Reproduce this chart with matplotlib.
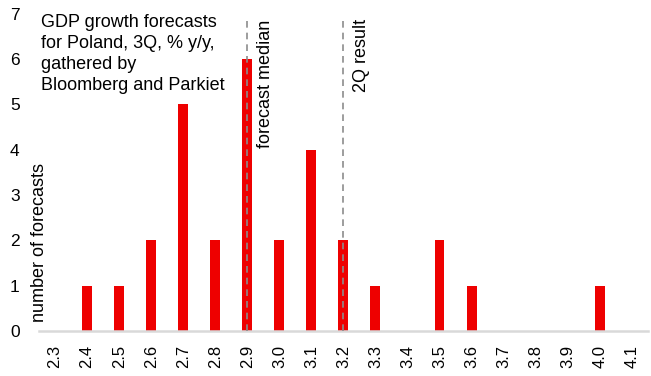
import matplotlib.pyplot as plt

plt.rcParams['font.family'] = ['Liberation Sans', 'DejaVu Sans']

# Forecast buckets and counts
kategorie = ['2.3', '2.4', '2.5', '2.6', '2.7', '2.8', '2.9', '3.0', '3.1', '3.2',
             '3.3', '3.4', '3.5', '3.6', '3.7', '3.8', '3.9', '4.0', '4.1']
liczba = [0, 1, 1, 2, 5, 2, 6, 2, 4, 2, 1, 0, 2, 1, 0, 0, 0, 1, 0]
mediana = '2.9'
wynik_2q = '3.2'

fig = plt.figure(figsize=(6.51, 3.76), dpi=100)
ax = fig.add_axes([0.06, 0.12, 0.935, 0.843])

x = list(range(len(kategorie)))
ax.bar(x, liczba, width=0.31, color='#ee0000', zorder=2)

# dashed reference lines
for kat, etykieta in [(mediana, 'forecast median'), (wynik_2q, '2Q result')]:
    i = kategorie.index(kat)
    ax.vlines(i, 0, 6.88, colors='#8c8c8c', linestyles=(0, (4, 3)), linewidth=1.2, zorder=3)
    ax.text(i + 0.3, 6.88, etykieta, rotation=90, va='top', ha='left', fontsize=13)

ax.set_xlim(-0.5, len(kategorie) - 0.5)
ax.set_ylim(0, 7)
ax.set_xticks(x)
ax.set_xticklabels(kategorie, rotation=90, fontsize=12)
ax.set_yticks(range(0, 8))
ax.tick_params(axis='both', length=0)
ax.tick_params(axis='y', labelsize=12.5, pad=14)
ax.tick_params(axis='x', pad=10)

for s in ['top', 'right', 'left']:
    ax.spines[s].set_visible(False)
ax.spines['bottom'].set_color('#d9d9d9')
ax.spines['bottom'].set_linewidth(1.8)

ax.text(0.003, 1.0, 'GDP growth forecasts\nfor Poland, 3Q, % y/y,\ngathered by\nBloomberg and Parkiet',
        transform=ax.transAxes, va='top', ha='left', fontsize=13, linespacing=1.3)

fig.text(40 / 651, 1 - 322 / 376, 'number of forecasts', rotation=90,
         va='bottom', ha='center', fontsize=13)

fig.savefig('out.png', dpi=100)
